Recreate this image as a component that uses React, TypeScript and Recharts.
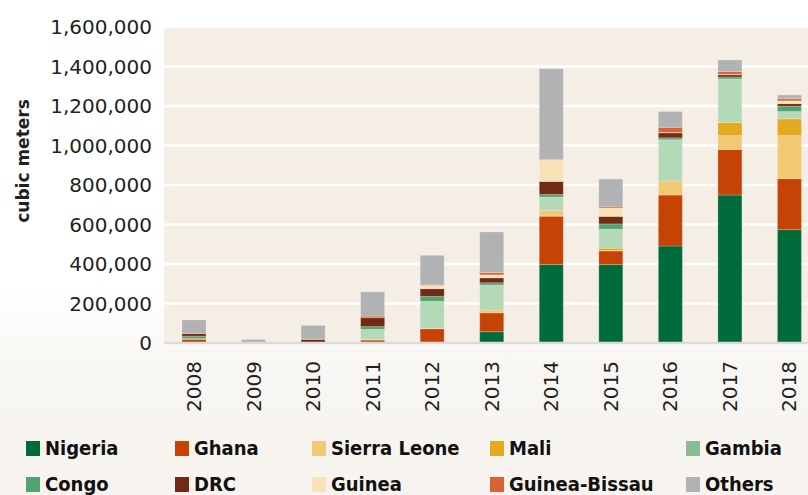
import { BarChart, Bar, XAxis, YAxis, CartesianGrid } from 'recharts';

const years = ['2008', '2009', '2010', '2011', '2012', '2013', '2014', '2015', '2016', '2017', '2018'];

const nigeria = [0, 0, 0, 0, 0, 57000, 398000, 397000, 491000, 749000, 574000];
const ghana = [19000, 0, 0, 15000, 72000, 96000, 244000, 69000, 258000, 231000, 258000];
const sierraLeone = [0, 0, 0, 2000, 3000, 14000, 28000, 3000, 71000, 70000, 218000];
const mali = [0, 0, 0, 0, 0, 0, 0, 11000, 0, 66000, 85000];
const gambia = [3000, 0, 0, 52000, 136000, 126000, 69000, 96000, 209000, 221000, 37000];
const congo = [13000, 0, 0, 14000, 25000, 12000, 13000, 27000, 10000, 10000, 27000];
const drc = [13000, 0, 18000, 45000, 39000, 25000, 66000, 38000, 25000, 11000, 13000];
const guinea = [0, 0, 0, 0, 17000, 15000, 108000, 42000, 2000, 2000, 14000];
const guineaBissau = [2000, 0, 2000, 8000, 2000, 12000, 3000, 6000, 26000, 15000, 11000];
const others = [67000, 18000, 69000, 123000, 150000, 205000, 460000, 141000, 80000, 58000, 19000];

const yTicks = [0, 200000, 400000, 600000, 800000, 1000000, 1200000, 1400000, 1600000];

const series = [
  { key: 'nigeria', name: 'Nigeria', values: nigeria, color: '#006b3a', swatch: '#006b3a' },
  { key: 'ghana', name: 'Ghana', values: ghana, color: '#c54405', swatch: '#c54405' },
  { key: 'sierraLeone', name: 'Sierra Leone', values: sierraLeone, color: '#f2c874', swatch: '#f2c874' },
  { key: 'mali', name: 'Mali', values: mali, color: '#e3a91f', swatch: '#e3a91f' },
  { key: 'gambia', name: 'Gambia', values: gambia, color: '#b4d9b9', swatch: '#8dbb92' },
  { key: 'congo', name: 'Congo', values: congo, color: '#52a46e', swatch: '#52a46e' },
  { key: 'drc', name: 'DRC', values: drc, color: '#722a16', swatch: '#722a16' },
  { key: 'guinea', name: 'Guinea', values: guinea, color: '#f8e2b6', swatch: '#f8e2b6' },
  { key: 'guineaBissau', name: 'Guinea-Bissau', values: guineaBissau, color: '#db6237', swatch: '#db6237' },
  { key: 'others', name: 'Others', values: others, color: '#b1b2b4', swatch: '#b1b2b4' },
];

const data = years.map((year, i) => {
  const row: Record<string, string | number> = { year };
  for (const s of series) row[s.key] = s.values[i];
  return row;
});

const tickFont = '"DejaVu Sans", sans-serif';
const legendFont = '"Liberation Sans Narrow", "DejaVu Sans Condensed", sans-serif';

// legend sits in 5 columns, two rows
const legendCols = [26, 175, 312, 490, 686];
const legendRows = [438, 474];

function YearTick({ x, y, payload }: { x?: number; y?: number; payload?: { value: string } }) {
  return (
    <text
      x={x}
      y={(y ?? 0) + 18}
      transform={`rotate(-90, ${x}, ${(y ?? 0) + 18})`}
      textAnchor="end"
      dy="0.36em"
      fill="#231f20"
      fontSize={20}
      fontFamily={tickFont}
    >
      {payload?.value}
    </text>
  );
}

function AxisTitle({ viewBox }: { viewBox?: { x: number; y: number; width: number; height: number } }) {
  if (!viewBox) return null;
  const cx = viewBox.x + 23;
  const cy = viewBox.y + viewBox.height / 2 - 24;
  return (
    <text
      x={cx}
      y={cy}
      transform={`rotate(-90, ${cx}, ${cy})`}
      textAnchor="middle"
      dominantBaseline="central"
      fill="#231f20"
      fontSize={17}
      fontWeight="bold"
      fontFamily={tickFont}
    >
      cubic meters
    </text>
  );
}

export default function App() {
  return (
    <div
      style={{
        position: 'absolute',
        left: 0,
        top: 0,
        width: 808,
        height: 495,
        overflow: 'hidden',
        background: 'linear-gradient(to bottom, #ffffff 0%, #ffffff 58%, #f8f6f2 75%, #f7f4ef 100%)',
      }}
    >
      <BarChart
        width={820}
        height={420}
        data={data}
        margin={{ top: 27, right: 1, left: 0, bottom: 0 }}
        barSize={24}
      >
        <CartesianGrid vertical={false} fill="#f5eee4" stroke="#ffffff" strokeWidth={2.5} />
        <XAxis
          dataKey="year"
          height={77}
          tickLine={false}
          tickSize={0}
          tickMargin={0}
          axisLine={{ stroke: '#dcdad6', strokeWidth: 2.5 }}
          tick={<YearTick />}
          interval={0}
        />
        <YAxis
          width={164}
          domain={[0, 1600000]}
          ticks={yTicks}
          tickLine={false}
          axisLine={false}
          tickSize={0}
          tickMargin={12}
          tickFormatter={(v) => Number(v).toLocaleString('en-US')}
          tick={{ fill: '#231f20', fontSize: 20, fontFamily: tickFont }}
          label={<AxisTitle />}
        />
        {series.map((s) => (
          <Bar
            key={s.key}
            dataKey={s.key}
            name={s.name}
            stackId="wood"
            fill={s.color}
            stroke="#ffffff"
            strokeOpacity={0.35}
            strokeWidth={0.6}
            isAnimationActive={false}
          />
        ))}
      </BarChart>

      {series.map((s, i) => {
        const col = i % 5;
        const row = Math.floor(i / 5);
        return (
          <div
            key={s.key}
            style={{
              position: 'absolute',
              left: legendCols[col],
              top: legendRows[row],
              display: 'flex',
              alignItems: 'center',
              gap: 5,
              fontFamily: legendFont,
              fontWeight: 'bold',
              fontSize: 20,
              color: '#111',
              whiteSpace: 'nowrap',
              lineHeight: '20px',
            }}
          >
            <span style={{ width: 14, height: 15, background: s.swatch, display: 'inline-block' }} />
            <span>{s.name}</span>
          </div>
        );
      })}
    </div>
  );
}
